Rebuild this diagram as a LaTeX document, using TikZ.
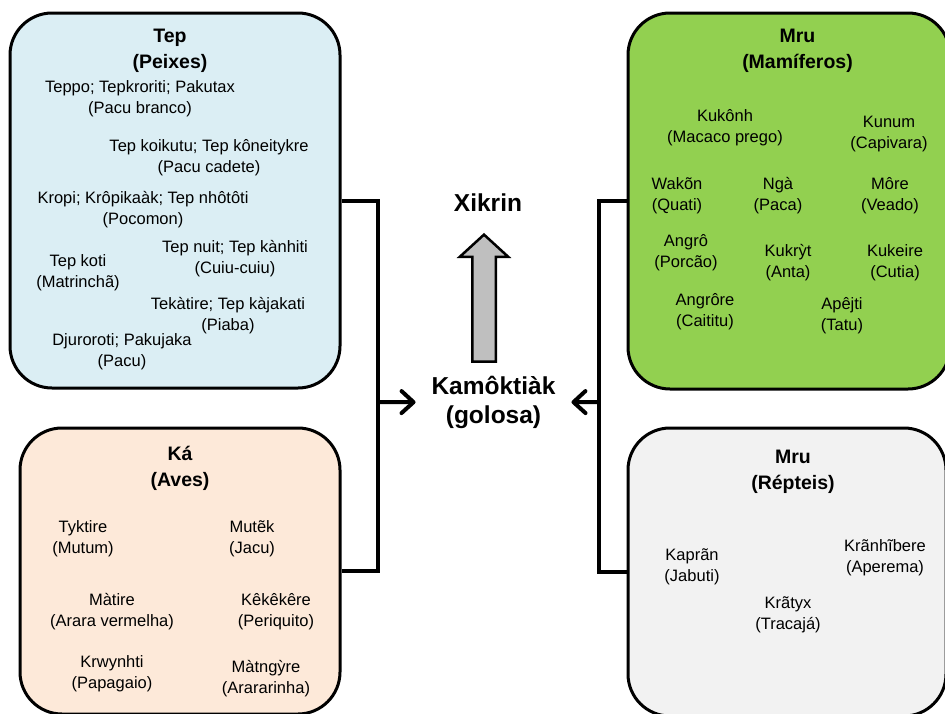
\documentclass[tikz,border=0pt]{standalone}
\usepackage{fontspec}
\setmainfont{Liberation Sans}
\usepackage{tikz}
\usetikzlibrary{positioning,shapes.arrows,arrows.meta}

\definecolor{azul}{RGB}{219,238,244}
\definecolor{pele}{RGB}{253,233,217}
\definecolor{verde}{RGB}{146,208,80}
\definecolor{gelo}{RGB}{242,242,242}
\definecolor{cinza}{RGB}{191,191,191}

\begin{document}
\begin{tikzpicture}[x=1pt,y=-1pt,on grid,
  grupo/.style={draw,line width=3pt,rounded corners=42pt,inner sep=0pt},
  titulo/.style={align=center,font=\fontsize{19.5}{26}\selectfont\bfseries},
  item/.style={align=center,font=\fontsize{16.5}{21}\selectfont},
  centro/.style={align=center,font=\fontsize{24.5}{29}\selectfont\bfseries},
  linha/.style={line width=4pt},
  >={Straight Barb[length=12pt,width=22pt,round]}]
\useasboundingbox (0,0) rectangle (945,713);

% caixas
\node[grupo,fill=azul,minimum width=330pt,minimum height=375pt] (b_tep) at (175,200.5) {};
\node[grupo,fill=pele,minimum width=320pt,minimum height=286pt] (b_ka) at (180,571) {};
\node[grupo,fill=verde,minimum width=322pt,minimum height=376pt] (b_mam) at (789,201) {};
\node[grupo,fill=gelo,minimum width=318pt,minimum height=288pt] (b_rep) at (787,572) {};

\node[titulo] (t_tep) at (170,50.5) {Tep\\(Peixes)};
\node[titulo] (t_ka) at (180,468) {Ká\\(Aves)};
\node[titulo] (t_mam) at (797.5,51) {Mru\\(Mamíferos)};
\node[titulo] (t_rep) at (793,471.5) {Mru\\(Répteis)};

% peixes
\node[item] (p_1) at (140,99) {Teppo; Tepkroriti; Pakutax\\(Pacu branco)};
\node[item] (p_2) at (209,158) {Tep koikutu; Tep kôneitykre\\(Pacu cadete)};
\node[item] (p_3) at (143,210) {Kropi; Krôpikaàk; Tep nhôtôti\\(Pocomon)};
\node[item] (p_4) at (235,259) {Tep nuit; Tep kànhiti\\(Cuiu-cuiu)};
\node[item] (p_5) at (78,273) {Tep koti\\(Matrinchã)};
\node[item] (p_6) at (228,316) {Tekàtire; Tep kàjakati\\(Piaba)};
\node[item] (p_7) at (122,352) {Djuroroti; Pakujaka\\(Pacu)};

% aves
\node[item] (a_1) at (83,539) {Tyktire\\(Mutum)};
\node[item] (a_2) at (252,539) {Mutẽk\\(Jacu)};
\node[item] (a_3) at (112,612) {Màtire\\(Arara vermelha)};
\node[item] (a_4) at (276,612) {Kêkêkêre\\(Periquito)};
\node[item] (a_5) at (112,674) {Krwynhti\\(Papagaio)};
\node[item] (a_6) at (266,679) {Màtngỳre\\(Arararinha)};

% mamiferos
\node[item] (m_1) at (725,128) {Kukônh\\(Macaco prego)};
\node[item] (m_2) at (889,134) {Kunum\\(Capivara)};
\node[item] (m_3) at (677,196) {Wakõn\\(Quati)};
\node[item] (m_4) at (778,196) {Ngà\\(Paca)};
\node[item] (m_5) at (890,196) {Môre\\(Veado)};
\node[item] (m_6) at (686,253) {Angrô\\(Porcão)};
\node[item] (m_7) at (788,263) {Kukrỳt\\(Anta)};
\node[item] (m_8) at (895,263) {Kukeire\\(Cutia)};
\node[item] (m_9) at (705,312) {Angrôre\\(Caititu)};
\node[item] (m_10) at (842,316) {Apêjti\\(Tatu)};

% repteis
\node[item] (r_1) at (692,567) {Kaprãn\\(Jabuti)};
\node[item] (r_2) at (885,558) {Krãnhĩbere\\(Aperema)};
\node[item] (r_3) at (788,615) {Krãtyx\\(Tracajá)};

% centro
\node[centro,inner sep=0pt,outer sep=16pt] (k_0) at (493.5,402.5) {Kamôktiàk\\(golosa)};
\node[draw,line width=2.5pt,fill=cinza,single arrow,rotate=90,
      minimum height=127pt,inner sep=10.5pt,
      single arrow head extend=12.5pt,single arrow tip angle=95,
      single arrow head indent=0pt] (s_0) [above left=99pt and 9.5pt of k_0] {};
\node[centro] (x_0) [above left=199.5pt and 5.5pt of k_0] {Xikrin};

\coordinate (l_bus) at (378,402);
\coordinate (r_bus) at (599,402);

\draw[linha] (b_tep.east) -| (l_bus) |- (b_ka.east);
\draw[linha] (b_mam.west) -| (r_bus) |- (b_rep.west);
\path[linha,->]
(l_bus) edge (k_0)
(r_bus) edge (k_0)
; %end path
\end{tikzpicture}
\end{document}
